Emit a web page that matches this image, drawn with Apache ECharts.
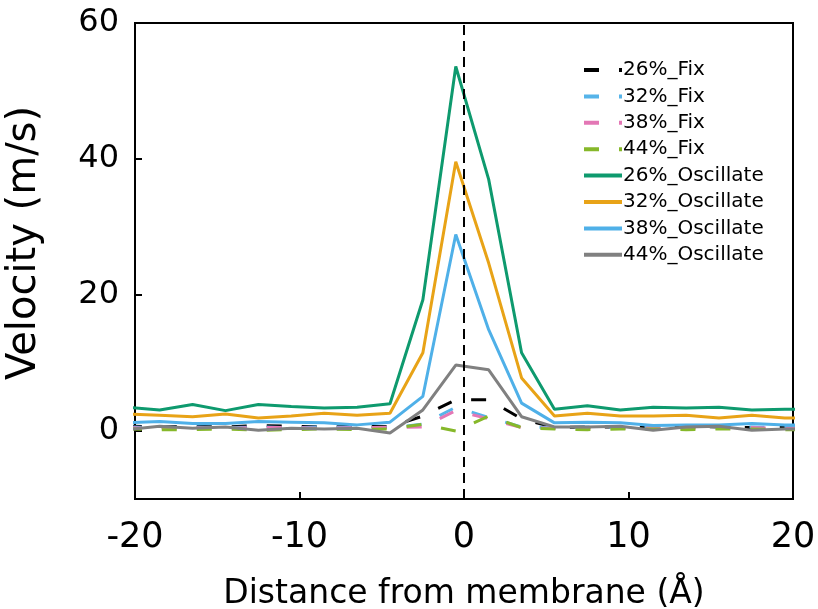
<!DOCTYPE html>
<html><head><meta charset="utf-8">
<script src="https://cdn.jsdelivr.net/npm/echarts@6/dist/echarts.min.js"></script>
<style>html,body{margin:0;padding:0;background:#fff}#c{width:818px;height:609px}</style>
</head><body><div id="c"></div>
<script>
const X = [-20.5,-18.5,-16.5,-14.5,-12.5,-10.5,-8.5,-6.5,-4.5,-2.5,-0.5,1.5,3.5,5.5,7.5,9.5,11.5,13.5,15.5,17.5,19.5,21.5];
const fix26 = [0.7,0.6,0.7,0.6,0.8,0.7,0.6,0.7,0.6,2.2,4.6,4.6,1.8,0.5,0.6,0.6,0.5,0.7,0.6,0.5,0.6,0.6];
const fix32 = [0.6,0.5,0.6,0.5,0.6,0.5,0.6,0.5,0.5,1.0,3.5,2.0,0.6,0.5,0.6,0.5,0.6,0.5,0.6,0.6,0.5,0.5];
const fix38 = [0.5,0.4,0.5,0.4,0.5,0.5,0.4,0.5,0.5,0.6,3.0,1.8,0.5,0.4,0.5,0.4,0.5,0.4,0.5,0.5,0.4,0.4];
const fix44 = [0.3,0.2,0.2,0.3,0.1,0.2,0.3,0.2,0.3,1.0,0.0,2.2,0.5,0.3,0.2,0.3,0.3,0.2,0.3,0.3,0.2,0.2];
const osc26 = [3.5,3.1,3.9,3.0,3.9,3.6,3.4,3.5,4.0,19.3,53.6,37.0,11.5,3.2,3.7,3.1,3.5,3.4,3.5,3.1,3.2,3.2];
const osc32 = [2.5,2.3,2.1,2.5,1.9,2.2,2.6,2.3,2.6,11.5,39.6,24.7,7.8,2.2,2.6,2.2,2.2,2.3,1.9,2.3,1.9,1.9];
const osc38 = [1.2,1.4,1.1,1.1,1.4,1.3,1.2,0.9,1.3,5.1,28.9,14.9,4.1,1.2,1.3,1.2,0.8,0.9,0.9,1.1,0.9,0.9];
const osc44 = [0.2,0.7,0.4,0.6,0.1,0.4,0.3,0.4,-0.3,3.1,9.7,9.0,2.1,0.6,0.6,0.7,0.1,0.6,0.7,0.1,0.3,0.3];
const xTicks = [-20,-10,0,10,20];
const yTicks = [0,20,40,60];

const names = ['26%_Fix','32%_Fix','38%_Fix','44%_Fix','26%_Oscillate','32%_Oscillate','38%_Oscillate','44%_Oscillate'];
const datas = [fix26,fix32,fix38,fix44,osc26,osc32,osc38,osc44];
const colors = ['#000000','#56B4E9','#E377B5','#86B82A','#0E9A6E','#E8A317','#4FB0E8','#808080'];

const series = names.map((n,i)=>({
  name:n, type:'line', symbol:'none', showSymbol:false, clip:true,
  data: X.map((x,j)=>[x, datas[i][j]]),
  lineStyle:{color:colors[i], width:3, type: i<4 ? [15,20] : 'solid'},
  itemStyle:{color:colors[i]},
  z: i<4 ? 2 : 3
}));
series[0].markLine = {
  silent:true, symbol:'none', label:{show:false},
  lineStyle:{color:'#000', width:2, type:[10,6]},
  data:[{xAxis:0}]
};

const FONT = 'DejaVu Sans, sans-serif';
const chart = echarts.init(document.getElementById('c'), null, {renderer:'canvas'});
chart.setOption({
  animation:false,
  backgroundColor:'#fff',
  textStyle:{fontFamily:FONT},
  grid:{left:135, right:25, top:23, bottom:110, outerBoundsMode:'none', containLabel:false,
        show:true, borderColor:'#000', borderWidth:2},
  legend:{
    data:names, orient:'vertical', left:577, top:55,
    itemWidth:38, itemHeight:14, itemGap:6.4,
    itemStyle:{opacity:0},
    lineStyle:{width:4},
    textStyle:{fontSize:20, lineHeight:20, color:'#000', fontFamily:FONT, padding:[0,0,0,-4]}
  },
  xAxis:{
    type:'value', min:-20, max:20, interval:10,
    name:'Distance from membrane (Å)', nameLocation:'middle', nameGap:79,
    nameTextStyle:{fontSize:33, color:'#000', fontFamily:FONT},
    axisLine:{show:true, onZero:false, lineStyle:{color:'#000', width:2}},
    axisTick:{show:true, inside:true, length:7, lineStyle:{color:'#000', width:2}},
    axisLabel:{fontSize:35, color:'#000', margin:21, fontFamily:FONT, formatter:v=>xTicks.includes(v)?String(v):''},
    splitLine:{show:false}
  },
  yAxis:{
    type:'value', min:-10, max:60, interval:10,
    name:'Velocity (m/s)', nameLocation:'middle', nameGap:90,
    nameTextStyle:{fontSize:40, color:'#000', fontFamily:FONT, padding:[0,0,0,36]},
    axisLine:{show:true, onZero:false, lineStyle:{color:'#000', width:2}},
    axisTick:{show:true, inside:true, length:7, lineStyle:{color:'#000', width:2},
      customValues:[0,20,40]},
    axisLabel:{fontSize:32, color:'#000', margin:16, fontFamily:FONT, customValues:yTicks, padding:[8,0,0,0]},
    splitLine:{show:false}
  },
  series: series
});
</script></body></html>
